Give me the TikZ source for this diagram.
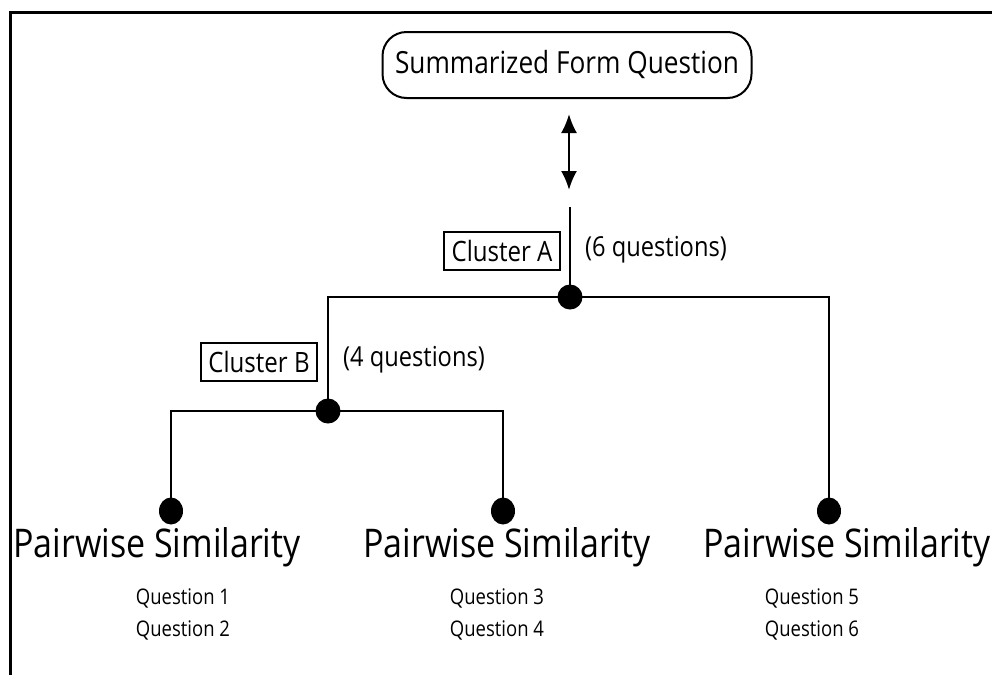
\documentclass[tikz,border=0pt]{standalone}
\usepackage{fontspec}
\setmainfont{Open Sans}[FakeStretch=0.86]
\usetikzlibrary{arrows.meta,shapes.geometric}

\begin{document}
\begin{tikzpicture}[x=1pt, y=-1pt,
    wire/.style={line width=2.5pt},
    dot/.style={circle, fill=black, inner sep=0pt, minimum size=25pt},
    leafdot/.style={ellipse, fill=black, inner sep=0pt, minimum width=24pt, minimum height=27pt},
    tag/.style={draw, line width=2pt, inner sep=0pt, minimum width=116pt, minimum height=38pt, font=\fontsize{28}{30}\selectfont},
    count/.style={font=\fontsize{27.5}{30}\selectfont},
    simlabel/.style={font=\fontsize{39.5}{42}\selectfont},
    qlist/.style={align=center, font=\fontsize{21.5}{32}\selectfont}]
    % Fix the page size
    \useasboundingbox (0,0) rectangle (992,675);

    % Draw the frame
    \draw[line width=3pt] (992,12) -- (10,12) -- (10,675);

    % Define the tree points
    \coordinate (stem) at (570,207);
    \coordinate (joinA) at (570,297);
    \coordinate (joinB) at (328,411);
    \coordinate (leafOne) at (171,511);
    \coordinate (leafTwo) at (503,511);
    \coordinate (leafThree) at (829,511);
    \coordinate (arrowTop) at (569,114);
    \coordinate (arrowBot) at (569,190);

    % Top question box and arrow
    \node[draw, line width=2pt, rounded corners=24pt, minimum width=369pt, minimum height=66pt,
          font=\fontsize{30.5}{34}\selectfont] (summary) at (567,65) {Summarized Form Question};
    \draw[line width=2.2pt, {Latex[length=19pt,width=16pt]}-{Latex[length=19pt,width=16pt]}] (arrowTop) -- (arrowBot);

    % Draw the branches
    \draw[wire] (stem) -- (joinA);
    \draw[wire] (joinA) -| (joinB);
    \draw[wire] (joinA) -| (leafThree);
    \draw[wire] (joinB) -| (leafOne);
    \draw[wire] (joinB) -| (leafTwo);

    % Draw the dots
    \node[dot] (dotA) at (joinA) {};
    \node[dot] (dotB) at (joinB) {};
    \node[leafdot] (dotOne) at (leafOne) {};
    \node[leafdot] (dotTwo) at (leafTwo) {};
    \node[leafdot] (dotThree) at (leafThree) {};

    % Add the cluster labels
    \node[tag] (clusterA) at (502,251) {Cluster A};
    \node[count] (countA) at (656,250) {(6 questions)};
    \node[tag] (clusterB) at (259,362) {Cluster B};
    \node[count] (countB) at (414,360) {(4 questions)};

    % Add the leaf labels
    \node[simlabel] (simOne) at (157,547) {Pairwise Similarity};
    \node[simlabel] (simTwo) at (507,547) {Pairwise Similarity};
    \node[simlabel] (simThree) at (847,547) {Pairwise Similarity};
    \node[qlist] (qOne) at (183,614) {Question 1\\Question 2};
    \node[qlist] (qTwo) at (497,614) {Question 3\\Question 4};
    \node[qlist] (qThree) at (812,614) {Question 5\\Question 6};
\end{tikzpicture}
\end{document}
